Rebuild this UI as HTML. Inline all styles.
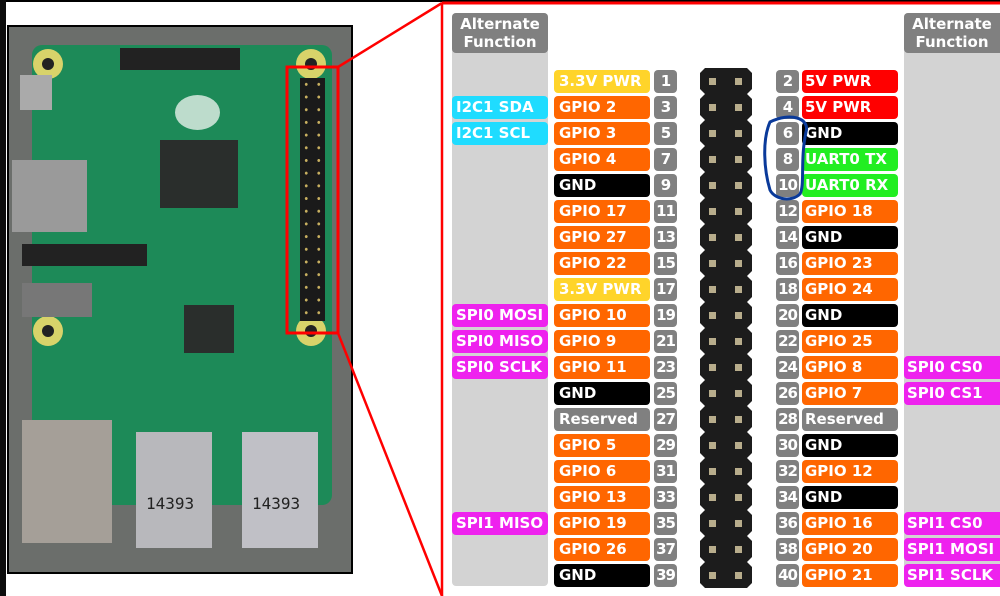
<!DOCTYPE html>
<html><head><meta charset="utf-8"><style>
*{margin:0;padding:0;box-sizing:border-box}
body{width:1000px;height:596px;overflow:hidden;background:#fff;position:relative;font-family:"DejaVu Sans","Liberation Sans",sans-serif;font-weight:bold;font-size:15px;color:#fff}
.a{position:absolute}
.r{position:absolute;left:0;width:1000px;height:26px}
.b{position:absolute;top:0;height:23px;line-height:23px;border-radius:4px;white-space:nowrap;overflow:hidden}
.ln{left:554px;width:96px;padding-left:5px}
.lnum{left:654px;width:23px;text-align:center;background:#808080}
.rnum{left:776px;width:23px;text-align:center;background:#808080;letter-spacing:-1px}
.lnum{letter-spacing:-1px}
.rn{left:802px;width:96px;padding-left:3px}
.la{left:452px;width:96px;padding-left:4px}
.ra{left:904px;width:100px;padding-left:3px}
.hd{position:absolute;left:700px;top:-2px;width:52px;height:26px;background:#1c1c1c;clip-path:polygon(5px 0,47px 0,52px 5px,52px 21px,47px 26px,5px 26px,0 21px,0 5px)}
.hd:before,.hd:after{content:"";position:absolute;top:10px;width:7px;height:7px;background:#b8ad8c}
.hd:before{left:9px}.hd:after{left:35px}
.o{background:#ff6600}.y{background:#ffd42a}.k{background:#000}.g{background:#808080}.rd{background:#ff0000}.gr{background:#22ee22}.c{background:#1fdcff}.m{background:#ee22ee}
</style></head><body>
<div class="a" style="left:0;top:0;width:1000px;height:2px;background:#000"></div>
<div class="a" style="left:0;top:0;width:6px;height:596px;background:#0d0d0d"></div>
<!-- photo -->
<div class="a" style="left:7px;top:25px;width:346px;height:549px;background:#000"></div>
<div class="a" style="left:9px;top:27px;width:342px;height:545px;background:#6b6e6b"></div>
<div class="a" style="left:32px;top:45px;width:300px;height:460px;background:#1d8a58;border-radius:10px"></div>
<div class="a" style="left:33px;top:49px;width:30px;height:30px;border-radius:50%;background:#d8d36a"></div>
<div class="a" style="left:42px;top:58px;width:12px;height:12px;border-radius:50%;background:#222"></div>
<div class="a" style="left:296px;top:49px;width:30px;height:30px;border-radius:50%;background:#d8d36a"></div>
<div class="a" style="left:305px;top:58px;width:12px;height:12px;border-radius:50%;background:#222"></div>
<div class="a" style="left:33px;top:316px;width:30px;height:30px;border-radius:50%;background:#d8d36a"></div>
<div class="a" style="left:42px;top:325px;width:12px;height:12px;border-radius:50%;background:#222"></div>
<div class="a" style="left:296px;top:316px;width:30px;height:30px;border-radius:50%;background:#d8d36a"></div>
<div class="a" style="left:305px;top:325px;width:12px;height:12px;border-radius:50%;background:#222"></div>
<div class="a" style="left:120px;top:48px;width:120px;height:22px;background:#222"></div>
<div class="a" style="left:20px;top:75px;width:32px;height:35px;background:#aaa"></div>
<div class="a" style="left:12px;top:160px;width:75px;height:72px;background:#9a9a9a"></div>
<div class="a" style="left:22px;top:244px;width:125px;height:22px;background:#222"></div>
<div class="a" style="left:22px;top:283px;width:70px;height:34px;background:#777"></div>
<div class="a" style="left:160px;top:140px;width:78px;height:68px;background:#2a2e2c"></div>
<div class="a" style="left:184px;top:305px;width:50px;height:48px;background:#2a2e2c"></div>
<div class="a" style="left:175px;top:95px;width:45px;height:35px;border-radius:50%;background:#e6f0ea;opacity:.8"></div>
<div class="a" style="left:300px;top:78px;width:25px;height:243px;background:#1a1a1a;background-image:radial-gradient(circle,#c8b060 1.3px,transparent 1.6px);background-size:12.5px 12.7px"></div>
<div class="a" style="left:22px;top:420px;width:90px;height:123px;background:#a59f98"></div>
<div class="a" style="left:136px;top:432px;width:76px;height:116px;background:#b8b8bc"></div>
<div class="a" style="left:242px;top:432px;width:76px;height:116px;background:#c0c0c6"></div>
<div class="a" style="left:146px;top:494px;font:16px 'DejaVu Sans Mono',monospace;color:#222">14393</div>
<div class="a" style="left:252px;top:494px;font:16px 'DejaVu Sans Mono',monospace;color:#222">14393</div>
<svg class="a" style="left:0;top:0" width="1000" height="596">
<rect x="287" y="67" width="51" height="266" fill="none" stroke="#f00" stroke-width="3"/>
<line x1="338" y1="67" x2="442" y2="3" stroke="#f00" stroke-width="2.5"/>
<line x1="338" y1="333" x2="442" y2="596" stroke="#f00" stroke-width="2.5"/>
<line x1="442" y1="3" x2="442" y2="596" stroke="#f00" stroke-width="2.5"/>
<line x1="442" y1="3" x2="1000" y2="3" stroke="#f00" stroke-width="3"/>
</svg>
<!-- alt columns -->
<div class="a" style="left:452px;top:13px;width:96px;height:573px;background:#d3d3d3;border-radius:4px"></div>
<div class="a" style="left:904px;top:13px;width:100px;height:573px;background:#d3d3d3;border-radius:4px"></div>
<div class="a" style="left:452px;top:13px;width:96px;height:40px;background:#808080;border-radius:4px;text-align:center;line-height:18px;padding-top:2px">Alternate<br>Function</div>
<div class="a" style="left:904px;top:13px;width:100px;height:40px;background:#808080;border-radius:4px;text-align:center;line-height:18px;padding-top:2px;padding-right:4px">Alternate<br>Function</div>

<div class="r" style="top:70px"><div class="b ln y">3.3V PWR</div><div class="b lnum">1</div><div class="hd"></div><div class="b rnum">2</div><div class="b rn rd">5V PWR</div></div>
<div class="r" style="top:96px"><div class="b la c">I2C1 SDA</div><div class="b ln o">GPIO 2</div><div class="b lnum">3</div><div class="hd"></div><div class="b rnum">4</div><div class="b rn rd">5V PWR</div></div>
<div class="r" style="top:122px"><div class="b la c">I2C1 SCL</div><div class="b ln o">GPIO 3</div><div class="b lnum">5</div><div class="hd"></div><div class="b rnum">6</div><div class="b rn k">GND</div></div>
<div class="r" style="top:148px"><div class="b ln o">GPIO 4</div><div class="b lnum">7</div><div class="hd"></div><div class="b rnum">8</div><div class="b rn gr">UART0 TX</div></div>
<div class="r" style="top:174px"><div class="b ln k">GND</div><div class="b lnum">9</div><div class="hd"></div><div class="b rnum">10</div><div class="b rn gr">UART0 RX</div></div>
<div class="r" style="top:200px"><div class="b ln o">GPIO 17</div><div class="b lnum">11</div><div class="hd"></div><div class="b rnum">12</div><div class="b rn o">GPIO 18</div></div>
<div class="r" style="top:226px"><div class="b ln o">GPIO 27</div><div class="b lnum">13</div><div class="hd"></div><div class="b rnum">14</div><div class="b rn k">GND</div></div>
<div class="r" style="top:252px"><div class="b ln o">GPIO 22</div><div class="b lnum">15</div><div class="hd"></div><div class="b rnum">16</div><div class="b rn o">GPIO 23</div></div>
<div class="r" style="top:278px"><div class="b ln y">3.3V PWR</div><div class="b lnum">17</div><div class="hd"></div><div class="b rnum">18</div><div class="b rn o">GPIO 24</div></div>
<div class="r" style="top:304px"><div class="b la m">SPI0 MOSI</div><div class="b ln o">GPIO 10</div><div class="b lnum">19</div><div class="hd"></div><div class="b rnum">20</div><div class="b rn k">GND</div></div>
<div class="r" style="top:330px"><div class="b la m">SPI0 MISO</div><div class="b ln o">GPIO 9</div><div class="b lnum">21</div><div class="hd"></div><div class="b rnum">22</div><div class="b rn o">GPIO 25</div></div>
<div class="r" style="top:356px"><div class="b la m">SPI0 SCLK</div><div class="b ln o">GPIO 11</div><div class="b lnum">23</div><div class="hd"></div><div class="b rnum">24</div><div class="b rn o">GPIO 8</div><div class="b ra m">SPI0 CS0</div></div>
<div class="r" style="top:382px"><div class="b ln k">GND</div><div class="b lnum">25</div><div class="hd"></div><div class="b rnum">26</div><div class="b rn o">GPIO 7</div><div class="b ra m">SPI0 CS1</div></div>
<div class="r" style="top:408px"><div class="b ln g">Reserved</div><div class="b lnum">27</div><div class="hd"></div><div class="b rnum">28</div><div class="b rn g">Reserved</div></div>
<div class="r" style="top:434px"><div class="b ln o">GPIO 5</div><div class="b lnum">29</div><div class="hd"></div><div class="b rnum">30</div><div class="b rn k">GND</div></div>
<div class="r" style="top:460px"><div class="b ln o">GPIO 6</div><div class="b lnum">31</div><div class="hd"></div><div class="b rnum">32</div><div class="b rn o">GPIO 12</div></div>
<div class="r" style="top:486px"><div class="b ln o">GPIO 13</div><div class="b lnum">33</div><div class="hd"></div><div class="b rnum">34</div><div class="b rn k">GND</div></div>
<div class="r" style="top:512px"><div class="b la m">SPI1 MISO</div><div class="b ln o">GPIO 19</div><div class="b lnum">35</div><div class="hd"></div><div class="b rnum">36</div><div class="b rn o">GPIO 16</div><div class="b ra m">SPI1 CS0</div></div>
<div class="r" style="top:538px"><div class="b ln o">GPIO 26</div><div class="b lnum">37</div><div class="hd"></div><div class="b rnum">38</div><div class="b rn o">GPIO 20</div><div class="b ra m">SPI1 MOSI</div></div>
<div class="r" style="top:564px"><div class="b ln k">GND</div><div class="b lnum">39</div><div class="hd"></div><div class="b rnum">40</div><div class="b rn o">GPIO 21</div><div class="b ra m">SPI1 SCLK</div></div>

<svg class="a" style="left:0;top:0" width="1000" height="596">
<path d="M770 122 C 790 112, 810 118, 806 132 C 800 160, 805 185, 800 194 C 792 202, 775 200, 770 190 C 764 170, 762 140, 770 122 Z" fill="none" stroke="#0a3a9a" stroke-width="3"/>
</svg>
</body></html>
